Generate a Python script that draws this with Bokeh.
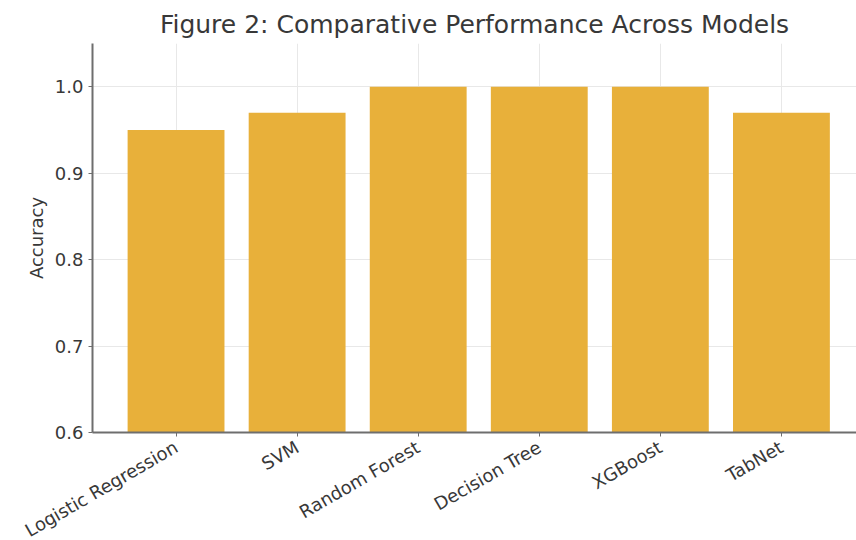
import math
from bokeh.plotting import figure
from bokeh.models import Range1d, FixedTicker
from bokeh.embed import file_html
from bokeh.resources import INLINE

# Model accuracy comparison
models = ["Logistic Regression", "SVM", "Random Forest", "Decision Tree", "XGBoost", "TabNet"]
accuracy = [0.95, 0.97, 1.0, 1.0, 1.0, 0.97]
y_ticks = [0.6, 0.7, 0.8, 0.9, 1.0]

positions = list(range(len(models)))

FONT = "DejaVu Sans"
TEXT = "#383838"
SPINE = "#6e6e6e"

p = figure(
    frame_width=764, frame_height=389,
    min_border_left=92, min_border_right=0, min_border_top=43, min_border_bottom=108,
    x_range=Range1d(-0.69, 5.62), y_range=Range1d(0.6, 1.05),
    output_backend="svg", toolbar_location=None,
    title="Figure 2: Comparative Performance Across Models",
)

p.vbar(x=positions, top=accuracy, bottom=0.6, width=0.8,
       fill_color="#E8B03A", line_color=None)

p.title.text_font = FONT
p.title.text_font_size = "25px"
p.title.text_font_style = "normal"
p.title.text_color = TEXT
p.title.align = "center"
p.title.offset = 5

# x axis: model names, rotated
p.xaxis.ticker = FixedTicker(ticks=positions)
p.xaxis.major_label_overrides = {i: m for i, m in enumerate(models)}
p.xaxis.major_label_orientation = math.pi / 6
p.xaxis.major_label_standoff = 9

# y axis
p.yaxis.ticker = FixedTicker(ticks=y_ticks)
p.yaxis.major_label_overrides = {v: f"{v:.1f}" for v in y_ticks}
p.yaxis.axis_label = "Accuracy"

for ax in (p.xaxis, p.yaxis):
    ax.major_label_text_font = FONT
    ax.major_label_text_font_size = "18px"
    ax.major_label_text_color = TEXT
    ax.axis_label_text_font = FONT
    ax.axis_label_text_font_size = "18px"
    ax.axis_label_text_font_style = "normal"
    ax.axis_label_text_color = TEXT
    ax.axis_line_color = SPINE
    ax.axis_line_width = 2
    ax.major_tick_line_color = SPINE
    ax.major_tick_out = 4
    ax.major_tick_in = 0
    ax.minor_tick_line_color = None

p.xgrid.ticker = FixedTicker(ticks=positions)
p.ygrid.ticker = FixedTicker(ticks=y_ticks)
p.grid.grid_line_color = "#e8e8e8"
p.grid.grid_line_width = 1

p.outline_line_color = None
p.background_fill_color = "white"
p.border_fill_color = "white"

open("out.html", "w").write(file_html(p, INLINE))
